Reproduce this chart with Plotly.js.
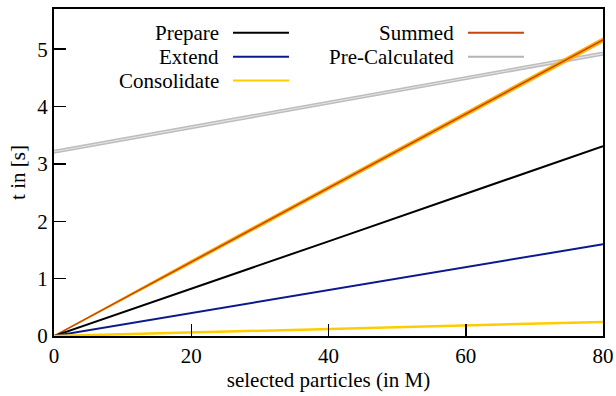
<!DOCTYPE html>
<html>
<head>
<meta charset="utf-8">
<script src="https://cdn.plot.ly/plotly-3.0.1.min.js"></script>
<style>html,body{margin:0;padding:0;background:#fff;}#chart{width:616px;height:396px;}</style>
</head>
<body>
<div id="chart"></div>
<script>
// Data
const particles = [0, 20, 40, 60, 80];
const prepare = [0, 0.82, 1.65, 2.48, 3.31];
const extend = [0, 0.40, 0.80, 1.20, 1.60];
const consolidate = [0, 0.06, 0.12, 0.18, 0.245];
const summed = [0, 1.29, 2.58, 3.87, 5.16];
const summedLow = [0, 1.265, 2.55, 3.84, 5.125];
const summedHigh = [0, 1.315, 2.61, 3.90, 5.195];
const preCalc = [3.21, 3.64, 4.07, 4.49, 4.92];
const preCalcLow = [3.19, 3.62, 4.05, 4.47, 4.90];
const preCalcHigh = [3.235, 3.665, 4.095, 4.515, 4.945];

const seriesNames = ["Prepare", "Extend", "Consolidate", "Summed", "Pre-Calculated"];
const seriesColors = ["#000000", "#0a1a8c", "#ffcc00", "#c8460a", "#b4b4b4"];
const xTicks = [0, 20, 40, 60, 80];
const yTicks = [0, 1, 2, 3, 4, 5];

function mkFont() { return {family: "Liberation Serif", size: 21, color: "#000000"}; }

const traces = [];
// Pre-Calculated band
traces.push({x: particles, y: preCalcLow, mode: "lines", line: {color: "#bdbdbd", width: 1.5}, showlegend: false, hoverinfo: "skip"});
traces.push({x: particles, y: preCalcHigh, mode: "lines", fill: "tonexty", fillcolor: "#e4e4e4", line: {color: "#bdbdbd", width: 1.5}, showlegend: false, hoverinfo: "skip"});
// Summed band
traces.push({x: particles, y: summedLow, mode: "lines", line: {color: "#ffb000", width: 1.2}, showlegend: false, hoverinfo: "skip"});
traces.push({x: particles, y: summedHigh, mode: "lines", fill: "tonexty", fillcolor: "#ffb000", line: {color: "#ffb000", width: 1.2}, showlegend: false, hoverinfo: "skip"});
traces.push({x: particles, y: summed, mode: "lines", name: seriesNames[3], line: {color: seriesColors[3], width: 1.5}, showlegend: false});
// Other series
traces.push({x: particles, y: prepare, mode: "lines", name: seriesNames[0], line: {color: seriesColors[0], width: 2}, showlegend: false});
traces.push({x: particles, y: extend, mode: "lines", name: seriesNames[1], line: {color: seriesColors[1], width: 2}, showlegend: false});
traces.push({x: particles, y: consolidate, mode: "lines", name: seriesNames[2], line: {color: seriesColors[2], width: 2.5}, showlegend: false});

// Custom gnuplot-style legend (text left of sample line)
const legendPos = [
  {tx: 0.3042, y: 0.9275, x0: 0.326, x1: 0.428},
  {tx: 0.3042, y: 0.854, x0: 0.326, x1: 0.428},
  {tx: 0.3042, y: 0.781, x0: 0.326, x1: 0.428},
  {tx: 0.7322, y: 0.9275, x0: 0.754, x1: 0.856},
  {tx: 0.7322, y: 0.854, x0: 0.754, x1: 0.856}
];
const annotations = [];
const shapes = [];
seriesNames.forEach((n, i) => {
  const p = legendPos[i];
  annotations.push({xref: "paper", yref: "paper", x: p.tx, y: p.y, xanchor: "right", yanchor: "middle", text: n, showarrow: false, font: mkFont()});
  shapes.push({type: "line", xref: "paper", yref: "paper", x0: p.x0, x1: p.x1, y0: p.y, y1: p.y, line: {color: seriesColors[i], width: 2}});
});

const layout = {
  width: 616, height: 396,
  margin: {l: 54, r: 13, t: 9, b: 60},
  paper_bgcolor: "#ffffff", plot_bgcolor: "#ffffff",
  font: mkFont(),
  showlegend: false,
  xaxis: {
    range: [0, 80], tickvals: xTicks, ticktext: xTicks.map(String),
    ticks: "inside", ticklen: 12, tickwidth: 1.5, tickcolor: "#000",
    showline: true, linecolor: "#000", linewidth: 2, mirror: true,
    showgrid: false, zeroline: false,
    title: {text: "selected particles (in M)", font: mkFont(), standoff: 4},
    tickfont: mkFont()
  },
  yaxis: {
    range: [0, 5.7], tickvals: yTicks, ticktext: yTicks.map(String),
    ticks: "inside", ticklen: 12, tickwidth: 1.5, tickcolor: "#000",
    showline: true, linecolor: "#000", linewidth: 2, mirror: true,
    showgrid: false, zeroline: false,
    title: {text: "t in [s]", font: mkFont(), standoff: 6},
    tickfont: mkFont()
  },
  annotations: annotations,
  shapes: shapes
};

Plotly.newPlot("chart", traces, layout, {staticPlot: true, displayModeBar: false});
</script>
</body>
</html>
